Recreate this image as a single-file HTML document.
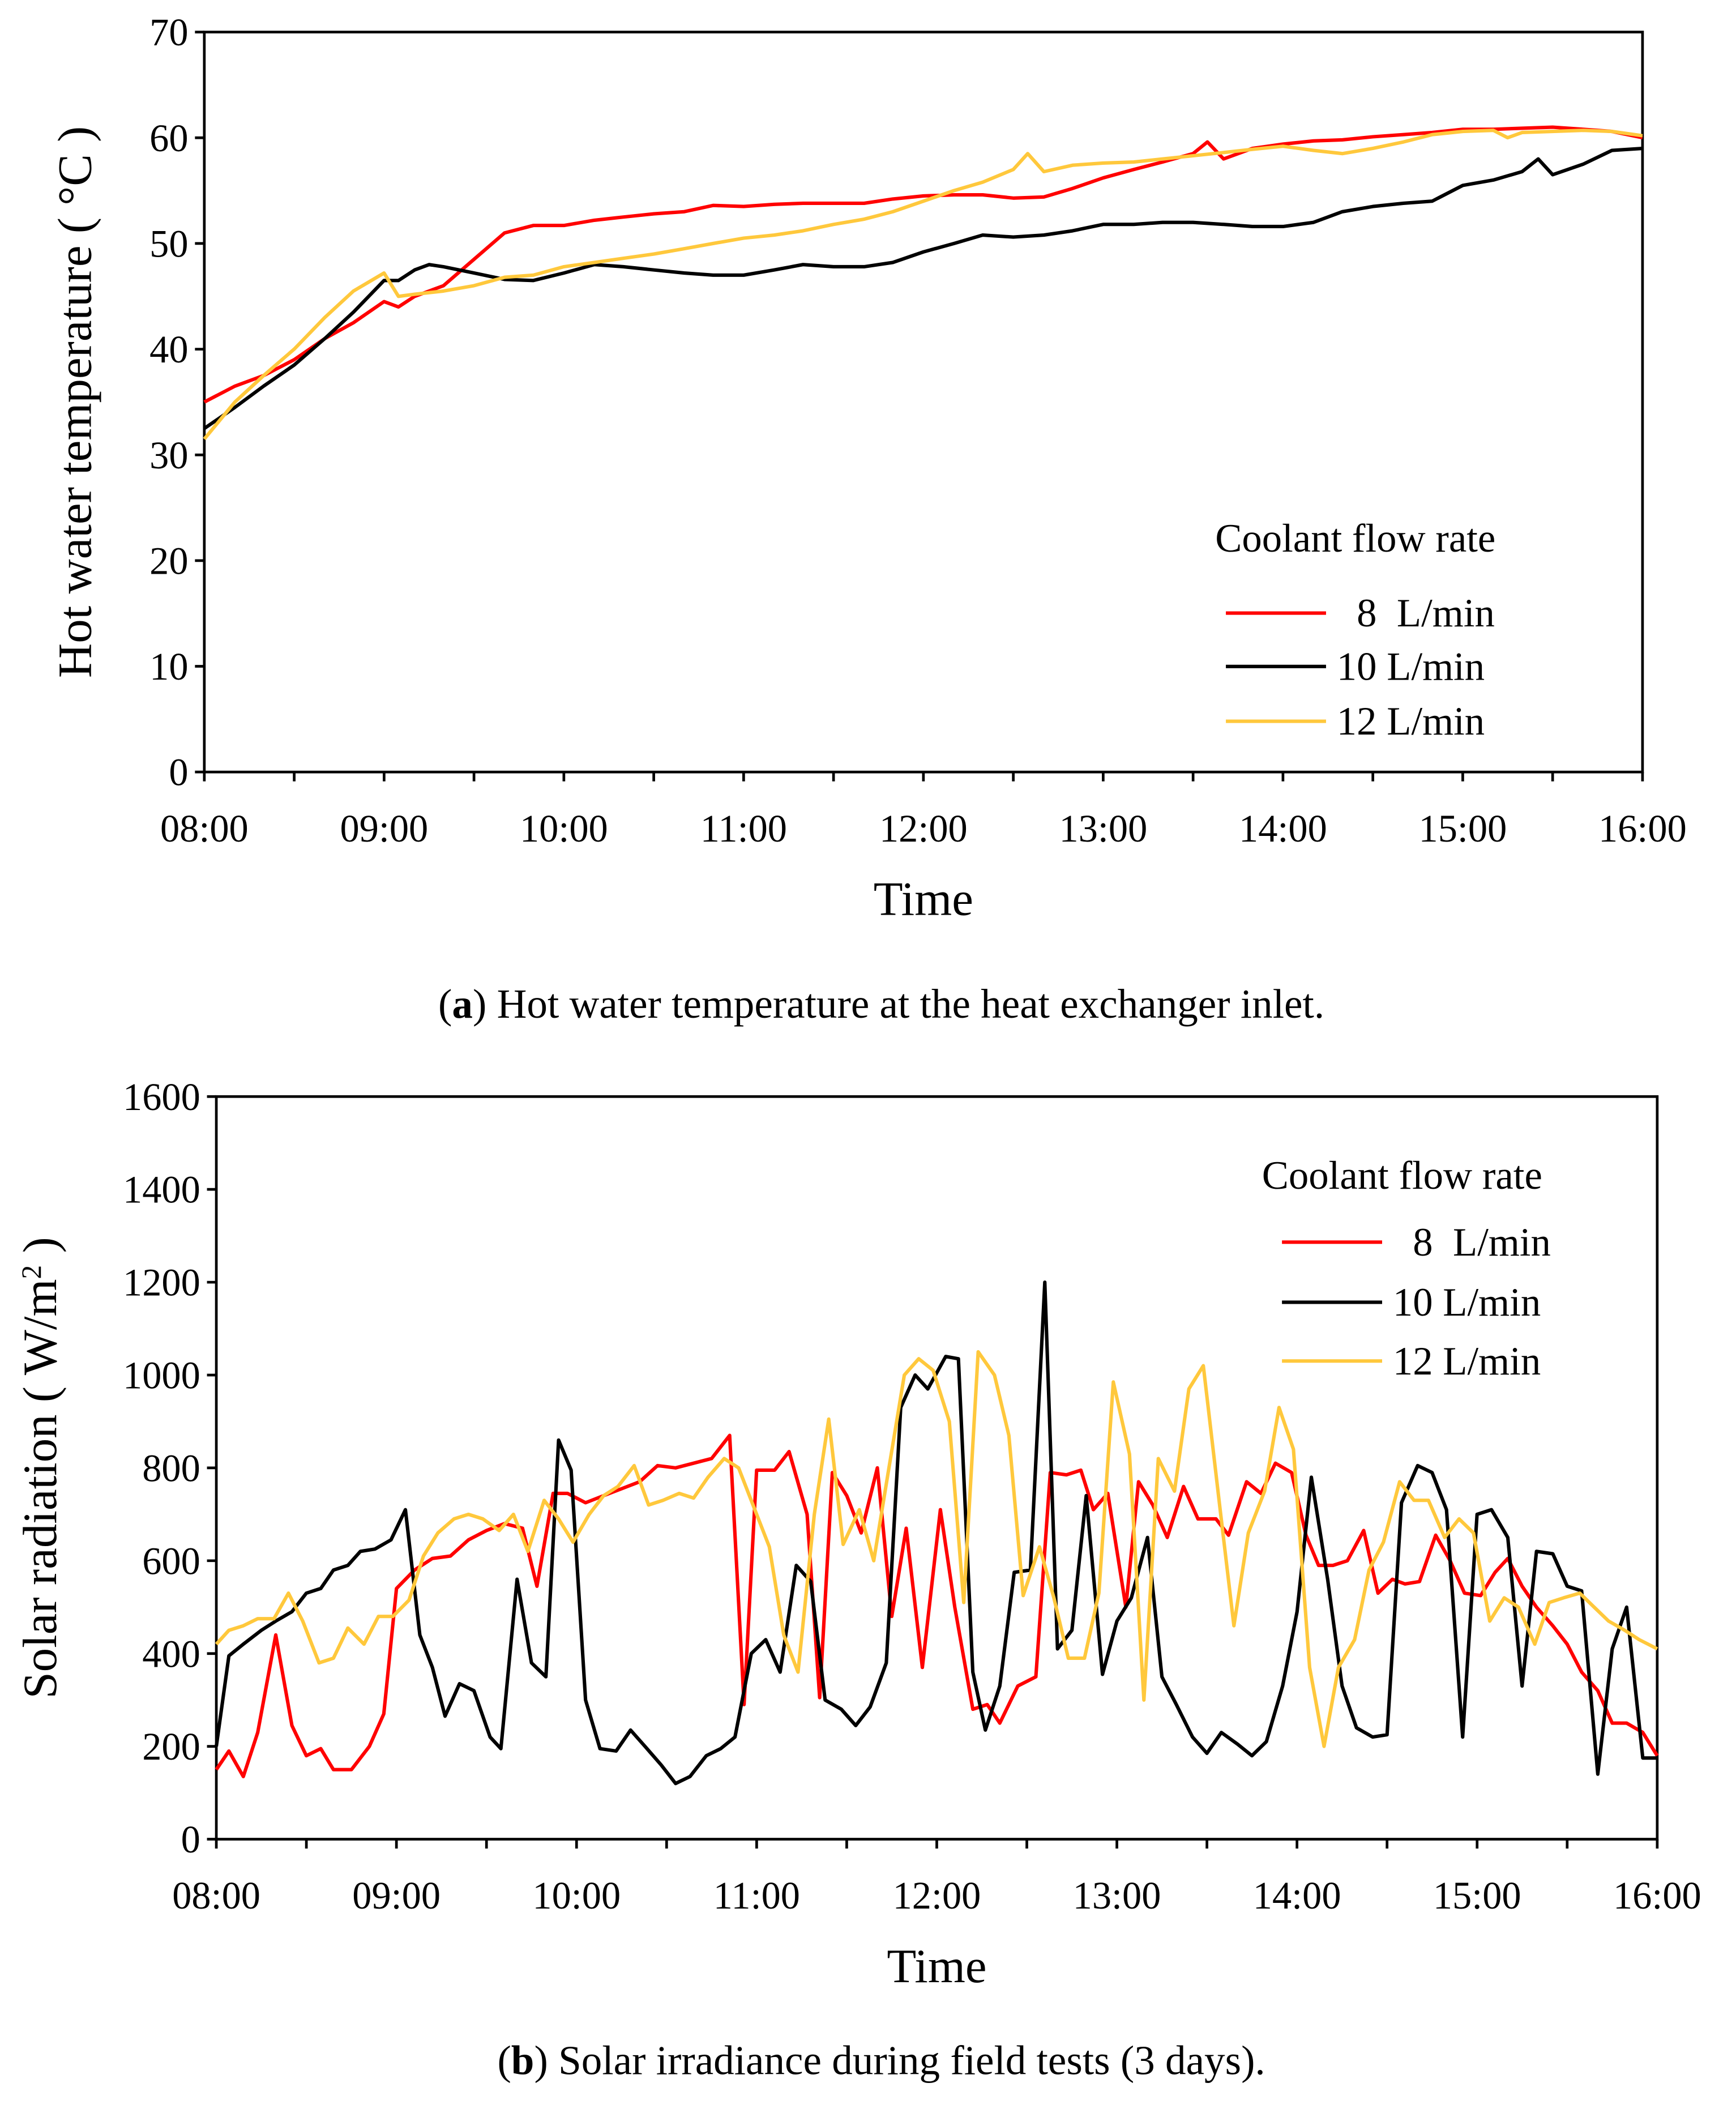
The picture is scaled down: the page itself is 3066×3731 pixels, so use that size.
<!DOCTYPE html>
<html><head><meta charset="utf-8">
<style>
html,body{margin:0;padding:0;background:#fff;}
svg{display:block;font-family:"Liberation Serif",serif;}
</style></head>
<body>
<svg id="fig" width="3066" height="3731" viewBox="0 0 1300 1582" preserveAspectRatio="none" xmlns="http://www.w3.org/2000/svg">
<rect width="1300" height="1582" fill="#fff"/>
<g id="chartA"></g>
<g id="chartB"></g>
<text x="660" y="762" font-size="31" text-anchor="middle">(<tspan font-weight="bold">a</tspan>) Hot water temperature at the heat exchanger inlet.</text>
<text x="660" y="1553" font-size="31" text-anchor="middle">(<tspan font-weight="bold">b</tspan>) Solar irradiance during field tests (3 days).</text>
</svg>
<script>
// ---- Chart A data ----
const aRedT=[8,8.17,8.33,8.5,8.67,8.83,9,9.08,9.17,9.33,9.5,9.67,9.83,10,10.17,10.33,10.5,10.67,10.83,11,11.17,11.33,11.5,11.67,11.83,12,12.17,12.33,12.5,12.67,12.83,13,13.17,13.33,13.5,13.58,13.67,13.83,14,14.17,14.33,14.5,14.67,14.83,15,15.17,15.33,15.5,15.67,15.83,16];
const aRedV=[35,36.5,37.5,39,41,42.5,44.5,44,45,46,48.5,51,51.7,51.7,52.2,52.5,52.8,53,53.6,53.5,53.7,53.8,53.8,53.8,54.2,54.5,54.6,54.6,54.3,54.4,55.2,56.2,57,57.7,58.5,59.6,58,59,59.4,59.7,59.8,60.1,60.3,60.5,60.8,60.8,60.9,61,60.8,60.6,60];
const aBlackT=[8,8.17,8.33,8.5,8.67,8.83,9,9.08,9.17,9.25,9.33,9.5,9.67,9.83,10,10.17,10.33,10.5,10.67,10.83,11,11.17,11.33,11.5,11.67,11.83,12,12.17,12.33,12.5,12.67,12.83,13,13.17,13.33,13.5,13.67,13.83,14,14.17,14.33,14.5,14.67,14.83,15,15.17,15.33,15.42,15.5,15.67,15.83,16];
const aBlackV=[32.5,34.5,36.5,38.5,41,43.5,46.5,46.5,47.5,48,47.8,47.2,46.6,46.5,47.2,48,47.8,47.5,47.2,47,47,47.5,48,47.8,47.8,48.2,49.2,50,50.8,50.6,50.8,51.2,51.8,51.8,52,52,51.8,51.6,51.6,52,53,53.5,53.8,54,55.5,56,56.8,58,56.5,57.5,58.8,59];
const aYellowT=[8,8.17,8.33,8.5,8.67,8.83,9,9.08,9.17,9.33,9.5,9.67,9.83,10,10.17,10.33,10.5,10.67,10.83,11,11.17,11.33,11.5,11.67,11.83,12,12.17,12.33,12.5,12.58,12.67,12.83,13,13.17,13.33,13.5,13.67,13.83,14,14.17,14.33,14.5,14.67,14.83,15,15.17,15.25,15.33,15.5,15.67,15.83,16];
const aYellowV=[31.5,35,37.5,40,43,45.5,47.2,45,45.2,45.5,46,46.8,47,47.8,48.2,48.6,49,49.5,50,50.5,50.8,51.2,51.8,52.3,53,54,55,55.8,57,58.5,56.8,57.4,57.6,57.7,58,58.3,58.6,58.9,59.2,58.8,58.5,59,59.6,60.3,60.6,60.7,60,60.5,60.6,60.7,60.6,60.2];
const aYTicks=[0,10,20,30,40,50,60,70];
const xTickLabels=["08:00","09:00","10:00","11:00","12:00","13:00","14:00","15:00","16:00"];
// ---- Chart B data ----
const bRedT=[8,8.07,8.15,8.23,8.33,8.42,8.5,8.58,8.65,8.75,8.85,8.93,9,9.1,9.2,9.3,9.4,9.5,9.6,9.7,9.78,9.87,9.95,10.05,10.15,10.25,10.35,10.45,10.55,10.65,10.75,10.85,10.93,11,11.1,11.18,11.28,11.35,11.42,11.5,11.58,11.67,11.75,11.83,11.92,12.02,12.1,12.2,12.28,12.35,12.45,12.55,12.63,12.72,12.8,12.87,12.95,13.05,13.12,13.2,13.28,13.37,13.45,13.55,13.62,13.72,13.8,13.88,13.97,14.05,14.12,14.2,14.28,14.37,14.45,14.53,14.6,14.68,14.77,14.85,14.93,15.02,15.1,15.17,15.25,15.33,15.42,15.5,15.58,15.67,15.75,15.83,15.92,16];
const bRedV=[150,190,135,230,440,245,180,195,150,150,200,270,540,580,605,610,645,665,680,670,545,745,745,725,740,755,770,805,800,810,820,870,290,795,795,835,700,305,790,740,660,800,480,670,370,710,500,280,290,250,330,350,790,785,795,710,745,500,770,720,650,760,690,690,655,770,745,810,790,655,590,590,600,665,530,560,550,555,655,600,530,525,575,605,545,500,460,420,360,320,250,250,230,180];
const bBlackT=[8,8.07,8.15,8.25,8.33,8.42,8.5,8.58,8.65,8.73,8.8,8.88,8.97,9.05,9.13,9.2,9.27,9.35,9.43,9.52,9.58,9.67,9.75,9.83,9.9,9.97,10.05,10.13,10.22,10.3,10.38,10.47,10.55,10.63,10.72,10.8,10.88,10.97,11.05,11.13,11.22,11.3,11.38,11.47,11.55,11.63,11.72,11.8,11.88,11.95,12.05,12.12,12.2,12.27,12.35,12.43,12.52,12.6,12.67,12.75,12.83,12.92,13,13.08,13.17,13.25,13.33,13.42,13.5,13.58,13.67,13.75,13.83,13.92,14,14.08,14.17,14.25,14.33,14.42,14.5,14.58,14.67,14.75,14.83,14.92,15,15.08,15.17,15.25,15.33,15.42,15.5,15.58,15.67,15.75,15.83,15.92,16];
const bBlackV=[200,395,420,450,470,490,530,540,580,590,620,625,645,710,440,370,265,335,320,220,195,560,380,350,860,795,300,195,190,235,200,160,120,135,180,195,220,400,430,360,590,555,300,280,245,285,380,930,1000,970,1040,1035,360,235,330,575,580,1200,410,450,740,355,470,520,650,350,290,220,185,230,205,180,210,330,490,780,560,330,240,220,225,725,805,790,710,220,700,710,650,330,620,615,545,535,140,410,500,175,175];
const bYellowT=[8,8.07,8.15,8.23,8.32,8.4,8.48,8.57,8.65,8.73,8.82,8.9,8.98,9.07,9.15,9.23,9.32,9.4,9.48,9.57,9.65,9.73,9.82,9.9,9.98,10.07,10.15,10.23,10.32,10.4,10.48,10.57,10.65,10.73,10.82,10.9,10.98,11.07,11.15,11.23,11.32,11.4,11.48,11.57,11.65,11.73,11.82,11.9,11.98,12.07,12.15,12.23,12.32,12.4,12.48,12.57,12.65,12.73,12.82,12.9,12.98,13.07,13.15,13.23,13.32,13.4,13.48,13.57,13.65,13.73,13.82,13.9,13.98,14.07,14.15,14.23,14.32,14.4,14.48,14.57,14.65,14.73,14.82,14.9,14.98,15.07,15.15,15.23,15.32,15.4,15.48,15.57,15.65,15.73,15.82,15.9,16];
const bYellowV=[420,450,460,475,475,530,470,380,390,455,420,480,480,515,610,660,690,700,690,665,700,620,730,690,640,700,740,760,805,720,730,745,735,780,820,800,720,630,440,360,700,905,635,710,600,790,1000,1035,1010,900,510,1050,1000,870,525,630,520,390,390,530,985,830,300,820,750,970,1020,720,460,660,750,930,840,370,200,370,430,580,640,770,730,730,650,690,660,470,520,500,420,510,520,530,500,470,450,430,410];
const bYTicks=[0,200,400,600,800,1000,1200,1400,1600];

const NS="http://www.w3.org/2000/svg";
function mk(parent,tag,attrs){const e=document.createElementNS(NS,tag);for(const k in attrs)e.setAttribute(k,attrs[k]);parent.appendChild(e);return e;}

function drawChart(g,box,yMax,yTicks,series,legend,ytitle,tickFS){
  const xs=t=>box.l+(t-8)/8*(box.r-box.l);
  const ys=v=>box.b-(v/yMax)*(box.b-box.t);
  const frame=mk(g,'rect',{x:box.l,y:box.t,width:box.r-box.l,height:box.b-box.t,fill:'none',stroke:'#000','stroke-width':2});
  
  
  yTicks.forEach(v=>{
    const tk=mk(g,'line',{x1:box.l-7,x2:box.l,y1:ys(v),y2:ys(v),stroke:'#000','stroke-width':2});
    
    
    const tl=mk(g,'text',{x:box.l-12,y:ys(v)+10,'font-size':tickFS,'text-anchor':'end'});
    tl.textContent=v;
    
    
  });
  for(let i=0;i<=16;i++){
    const t=8+i/2;
    const tk=mk(g,'line',{x1:xs(t),x2:xs(t),y1:box.b,y2:box.b+7,stroke:'#000','stroke-width':2});
    
    
  }
  xTickLabels.forEach((s,i)=>{
    const tl=mk(g,'text',{x:xs(8+i),y:box.b+52,'font-size':tickFS,'text-anchor':'middle'});
    tl.textContent=s;
    
    
  });
  const xt=mk(g,'text',{x:(box.l+box.r)/2,y:box.b+107,'font-size':36,'text-anchor':'middle'});
  xt.textContent='Time';
  
  
  const yt=mk(g,'text',{x:0,y:0,'font-size':36,'text-anchor':'middle',transform:`translate(${ytitle.x},${(box.t+box.b)/2}) rotate(-90)`});
  yt.innerHTML=ytitle.text;
  
  
  series.forEach(s=>{
    const pts=s.t.map((t,i)=>xs(t).toFixed(1)+','+ys(s.v[i]).toFixed(1)).join(' ');
    const pl=mk(g,'polyline',{points:pts,fill:'none',stroke:s.color,'stroke-width':2.6,'stroke-linejoin':'round'});
    
    
  });
  const lt=mk(g,'text',{x:legend.tx,y:legend.ty,'font-size':30});
  lt.textContent='Coolant flow rate';
  
  
  series.forEach((s,i)=>{
    const y=legend.ys[i];
    const ln=mk(g,'line',{x1:legend.lx1,x2:legend.lx2,y1:y,y2:y,stroke:s.color,'stroke-width':2.6});
    
    
    const tx=mk(g,'text',{x:legend.lx2+8,y:y+10,'font-size':30});
    tx.textContent=s.label;
    
    
  });
}
drawChart(document.getElementById('chartA'),{l:153,r:1230,t:24,b:578},70,aYTicks,
 [{name:'8-lpm',label:'\u00a0\u00a08\u00a0\u00a0L/min',color:'#ff0000',t:aRedT,v:aRedV},
  {name:'10-lpm',label:'10 L/min',color:'#000000',t:aBlackT,v:aBlackV},
  {name:'12-lpm',label:'12 L/min',color:'#ffc83c',t:aYellowT,v:aYellowV}],
 {tx:910,ty:413,lx1:918,lx2:993,ys:[459,499,540]},
 {x:68,text:'Hot water temperature ( °C )'},29);
drawChart(document.getElementById('chartB'),{l:162,r:1241,t:821,b:1377},1600,bYTicks,
 [{name:'8-lpm',label:'\u00a0\u00a08\u00a0\u00a0L/min',color:'#ff0000',t:bRedT,v:bRedV},
  {name:'10-lpm',label:'10 L/min',color:'#000000',t:bBlackT,v:bBlackV},
  {name:'12-lpm',label:'12 L/min',color:'#ffc83c',t:bYellowT,v:bYellowV}],
 {tx:945,ty:890,lx1:960,lx2:1035,ys:[930,975,1019]},
 {x:42,text:'Solar radiation ( W/m<tspan baseline-shift="super" font-size="21">2</tspan> )'},29);
</script>
</body></html>
